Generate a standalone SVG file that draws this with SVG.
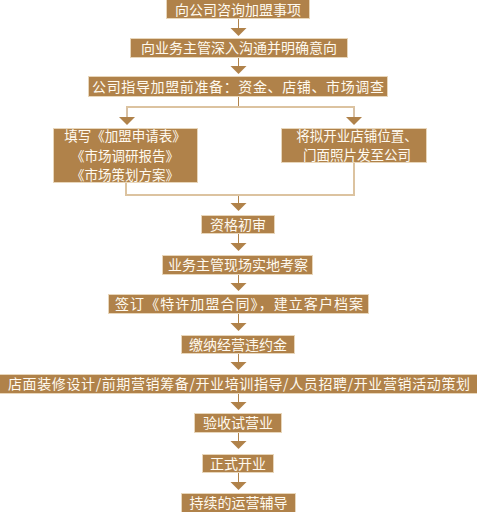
<svg xmlns="http://www.w3.org/2000/svg" width="477" height="512" viewBox="0 0 477 512">
<style>
.b{fill:#b0824a;stroke:#e8d6ba;stroke-width:1}
.t{fill:#fffaf0;font-family:"Noto Sans CJK SC","Noto Sans",sans-serif;font-size:14px;text-anchor:middle}
.m{font-size:13.5px}
.d{stroke:#b0824a;stroke-width:1;fill:none}
.l{stroke:#dcc3a0;stroke-width:2;fill:none}
.a{fill:#b0824a}
</style>
<rect width="477" height="512" fill="#ffffff"/>
<g id="connectors">
<path class="d" d="M238.5 19V28M238.5 58V66M238.5 97V107M127 107V117M354 107V117M238.5 195V203M238.5 234V243M238.5 275V283M238.5 314V323M238.5 354V362M238.5 394V402M238.5 433V441M238.5 473V482"/>
<path class="l" d="M126 107H355M126 183V195H354V163"/>
<polygon class="a" points="230.5,28 246.5,28 238.5,36"/>
<polygon class="a" points="230.5,66 246.5,66 238.5,74"/>
<polygon class="a" points="119,117 135,117 127,125"/>
<polygon class="a" points="346,117 362,117 354,125"/>
<polygon class="a" points="230.5,203 246.5,203 238.5,211"/>
<polygon class="a" points="230.5,243 246.5,243 238.5,251"/>
<polygon class="a" points="230.5,283 246.5,283 238.5,291"/>
<polygon class="a" points="230.5,323 246.5,323 238.5,331"/>
<polygon class="a" points="230.5,362 246.5,362 238.5,370"/>
<polygon class="a" points="230.5,402 246.5,402 238.5,410"/>
<polygon class="a" points="230.5,441 246.5,441 238.5,449"/>
<polygon class="a" points="230.5,482 246.5,482 238.5,490"/>
</g>
<g id="n1"><rect class="b" x="166.5" y="-0.5" width="143" height="19"/><text class="t" x="238" y="14.5">向公司咨询加盟事项</text></g>
<g id="n2"><rect class="b" x="130.5" y="38.5" width="217" height="19"/><text class="t" x="239" y="53">向业务主管深入沟通并明确意向</text></g>
<g id="n3"><rect class="b" x="88.5" y="76.5" width="299" height="20"/><text class="t" x="238" y="91.5" textLength="292" lengthAdjust="spacing">公司指导加盟前准备：资金、店铺、市场调查</text></g>
<g id="n4"><rect class="b" x="53.5" y="128.5" width="144" height="54"/><text class="t m"><tspan x="125" y="141">填写《加盟申请表》</tspan><tspan x="125" y="160.6">《市场调研报告》</tspan><tspan x="125" y="180.2">《市场策划方案》</tspan></text></g>
<g id="n5"><rect class="b" x="281.5" y="128.5" width="145" height="34"/><text class="t m"><tspan x="357" y="140.5">将拟开业店铺位置、</tspan><tspan x="357" y="160.1">门面照片发至公司</tspan></text></g>
<g id="n6"><rect class="b" x="201.5" y="215.5" width="73" height="18"/><text class="t" x="238" y="229.5">资格初审</text></g>
<g id="n7"><rect class="b" x="162.5" y="255.5" width="150" height="19"/><text class="t" x="238" y="270">业务主管现场实地考察</text></g>
<g id="n8"><rect class="b" x="108.5" y="294.5" width="260" height="19"/><text class="t" x="239" y="309" textLength="248" lengthAdjust="spacing">签订《特许加盟合同》，建立客户档案</text></g>
<g id="n9"><rect class="b" x="181.5" y="335.5" width="113" height="18"/><text class="t" x="238" y="349.5">缴纳经营违约金</text></g>
<g id="n10"><rect class="b" x="-0.5" y="374.5" width="478" height="19"/><text class="t" x="239" y="389" textLength="462" lengthAdjust="spacing">店面装修设计/前期营销筹备/开业培训指导/人员招聘/开业营销活动策划</text></g>
<g id="n11"><rect class="b" x="194.5" y="413.5" width="87" height="19"/><text class="t" x="238" y="428">验收试营业</text></g>
<g id="n12"><rect class="b" x="202.5" y="454.5" width="71" height="18"/><text class="t" x="238" y="468.5">正式开业</text></g>
<g id="n13"><rect class="b" x="181.5" y="493.5" width="114" height="19"/><text class="t" x="238.5" y="508">持续的运营辅导</text></g>
</svg>
